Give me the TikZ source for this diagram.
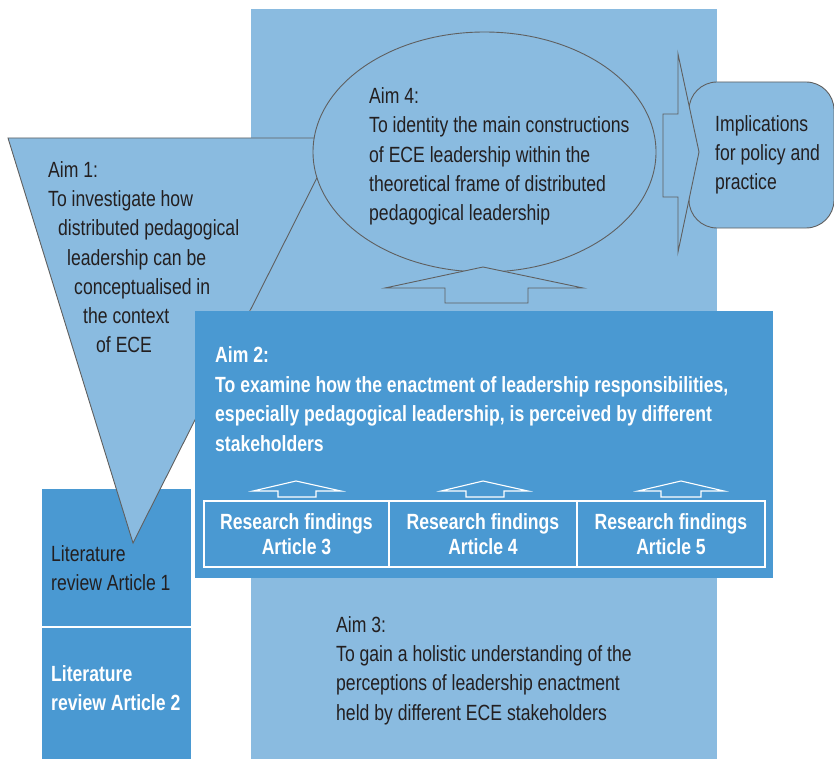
\documentclass[tikz,border=0pt]{standalone}
\usepackage{fontspec}
\setmainfont{Liberation Sans}[FakeStretch=0.8]
\usetikzlibrary{shapes.geometric}
\definecolor{lightblue}{RGB}{138,187,224}
\definecolor{darkblue}{RGB}{74,153,210}
\definecolor{edgegray}{RGB}{95,95,95}
\definecolor{inkdark}{RGB}{35,31,32}
\begin{document}
\begin{tikzpicture}[x=1pt,y=-1pt,
  txt/.style={font=\fontsize{22}{29.3}\selectfont, text=inkdark, inner sep=0pt, align=left, anchor=north west},
  wtxt/.style={font=\fontsize{22}{29.5}\selectfont\bfseries, text=white, inner sep=0pt, align=left, anchor=north west},
  rftxt/.style={font=\fontsize{22}{25}\selectfont\bfseries, text=white, inner sep=0pt, align=center, anchor=north},
  panel/.style={inner sep=0pt, outer sep=0pt, anchor=north west, draw=none},
  grayedge/.style={draw=edgegray, line width=0.9pt, fill=lightblue},
  whiteedge/.style={draw=white, line width=1.1pt},
]
\useasboundingbox (0,0) rectangle (834,759);
% background panel (Aim 3)
\node[panel, fill=lightblue, minimum width=466pt, minimum height=750pt] (aimthreebg) at (251,9) {};
% literature boxes
\node[panel, fill=darkblue, minimum width=149pt, minimum height=138pt] (litone) at (42,489) {};
\node[panel, fill=darkblue, minimum width=149pt, minimum height=132pt] (littwo) at (42,627) {};
\draw[whiteedge] (litone.south west) -- (litone.south east);
% Aim 1 triangle
\coordinate (triA) at (8,138);
\coordinate (triB) at (337,138);
\coordinate (triC) at (133,543);
\draw[grayedge] (triA) -- (triB) -- (triC) -- cycle;
% Aim 4 ellipse
\node[ellipse, grayedge, inner sep=0pt, minimum width=343pt, minimum height=240pt] (aimfour) at (484.5,152) {};
% implications box
\node[panel, grayedge, rounded corners=28pt, minimum width=145pt, minimum height=146pt] (impl) at (689,82) {};
% right block arrow
\draw[grayedge] (663,114) -- (678,114) -- (678,54) -- (699,152) -- (678,252) -- (678,197) -- (663,197) -- cycle;
% up block arrow under ellipse
\draw[grayedge] (445,303) -- (445,288) -- (385,288) -- (483,267) -- (583,288) -- (528,288) -- (528,303) -- cycle;
% Aim 2 box
\node[panel, fill=darkblue, minimum width=578pt, minimum height=267pt] (aimtwo) at (195,311) {};
% research findings boxes
\node[panel, whiteedge, minimum width=185pt, minimum height=66pt] (rfthree) at (204,501) {};
\node[panel, whiteedge, minimum width=188pt, minimum height=66pt] (rffour) at (389,501) {};
\node[panel, whiteedge, minimum width=188pt, minimum height=66pt] (rffive) at (577,501) {};
% small up arrows
\draw[whiteedge] (278,497) -- (278,491) -- (253,491) -- (296,481) -- (341,491) -- (316,491) -- (316,497) -- cycle;
\draw[whiteedge] (466,497) -- (466,491) -- (441,491) -- (483,481) -- (528,491) -- (504,491) -- (504,497) -- cycle;
\draw[whiteedge] (661,497) -- (661,491) -- (638,491) -- (681,481) -- (724,491) -- (701,491) -- (701,497) -- cycle;
% texts
\node[txt] (aimfourtxt) at (369,87.5) {Aim 4:\\To identity the main constructions\\of ECE leadership within the\\theoretical frame of distributed\\pedagogical leadership};
\node[txt] (aimonetxt) at (48,161) {Aim 1:\\To investigate how\\\hspace*{10pt}distributed pedagogical\\\hspace*{19pt}leadership can be\\\hspace*{26pt}conceptualised in\\\hspace*{35pt}the context\\\hspace*{48pt}of ECE};
\node[txt] (impltxt) at (715,115) {Implications\\for policy and\\practice};
\node[wtxt] (aimtwotxt) at (215,346.5) {Aim 2:\\To examine how the enactment of leadership responsibilities,\\especially pedagogical leadership, is perceived by different\\stakeholders};
\node[rftxt] (rfthreetxt) at (296.5,513) {Research findings\\Article 3};
\node[rftxt] (rffourtxt) at (483,513) {Research findings\\Article 4};
\node[rftxt] (rffivetxt) at (671,513) {Research findings\\Article 5};
\node[txt] (litonetxt) at (51,545) {Literature\\review Article 1};
\node[wtxt] (littwotxt) at (51,665) {Literature\\review Article 2};
\node[txt] (aimthreetxt) at (336,616) {Aim 3:\\To gain a holistic understanding of the\\perceptions of leadership enactment\\held by different ECE stakeholders};
\end{tikzpicture}
\end{document}
